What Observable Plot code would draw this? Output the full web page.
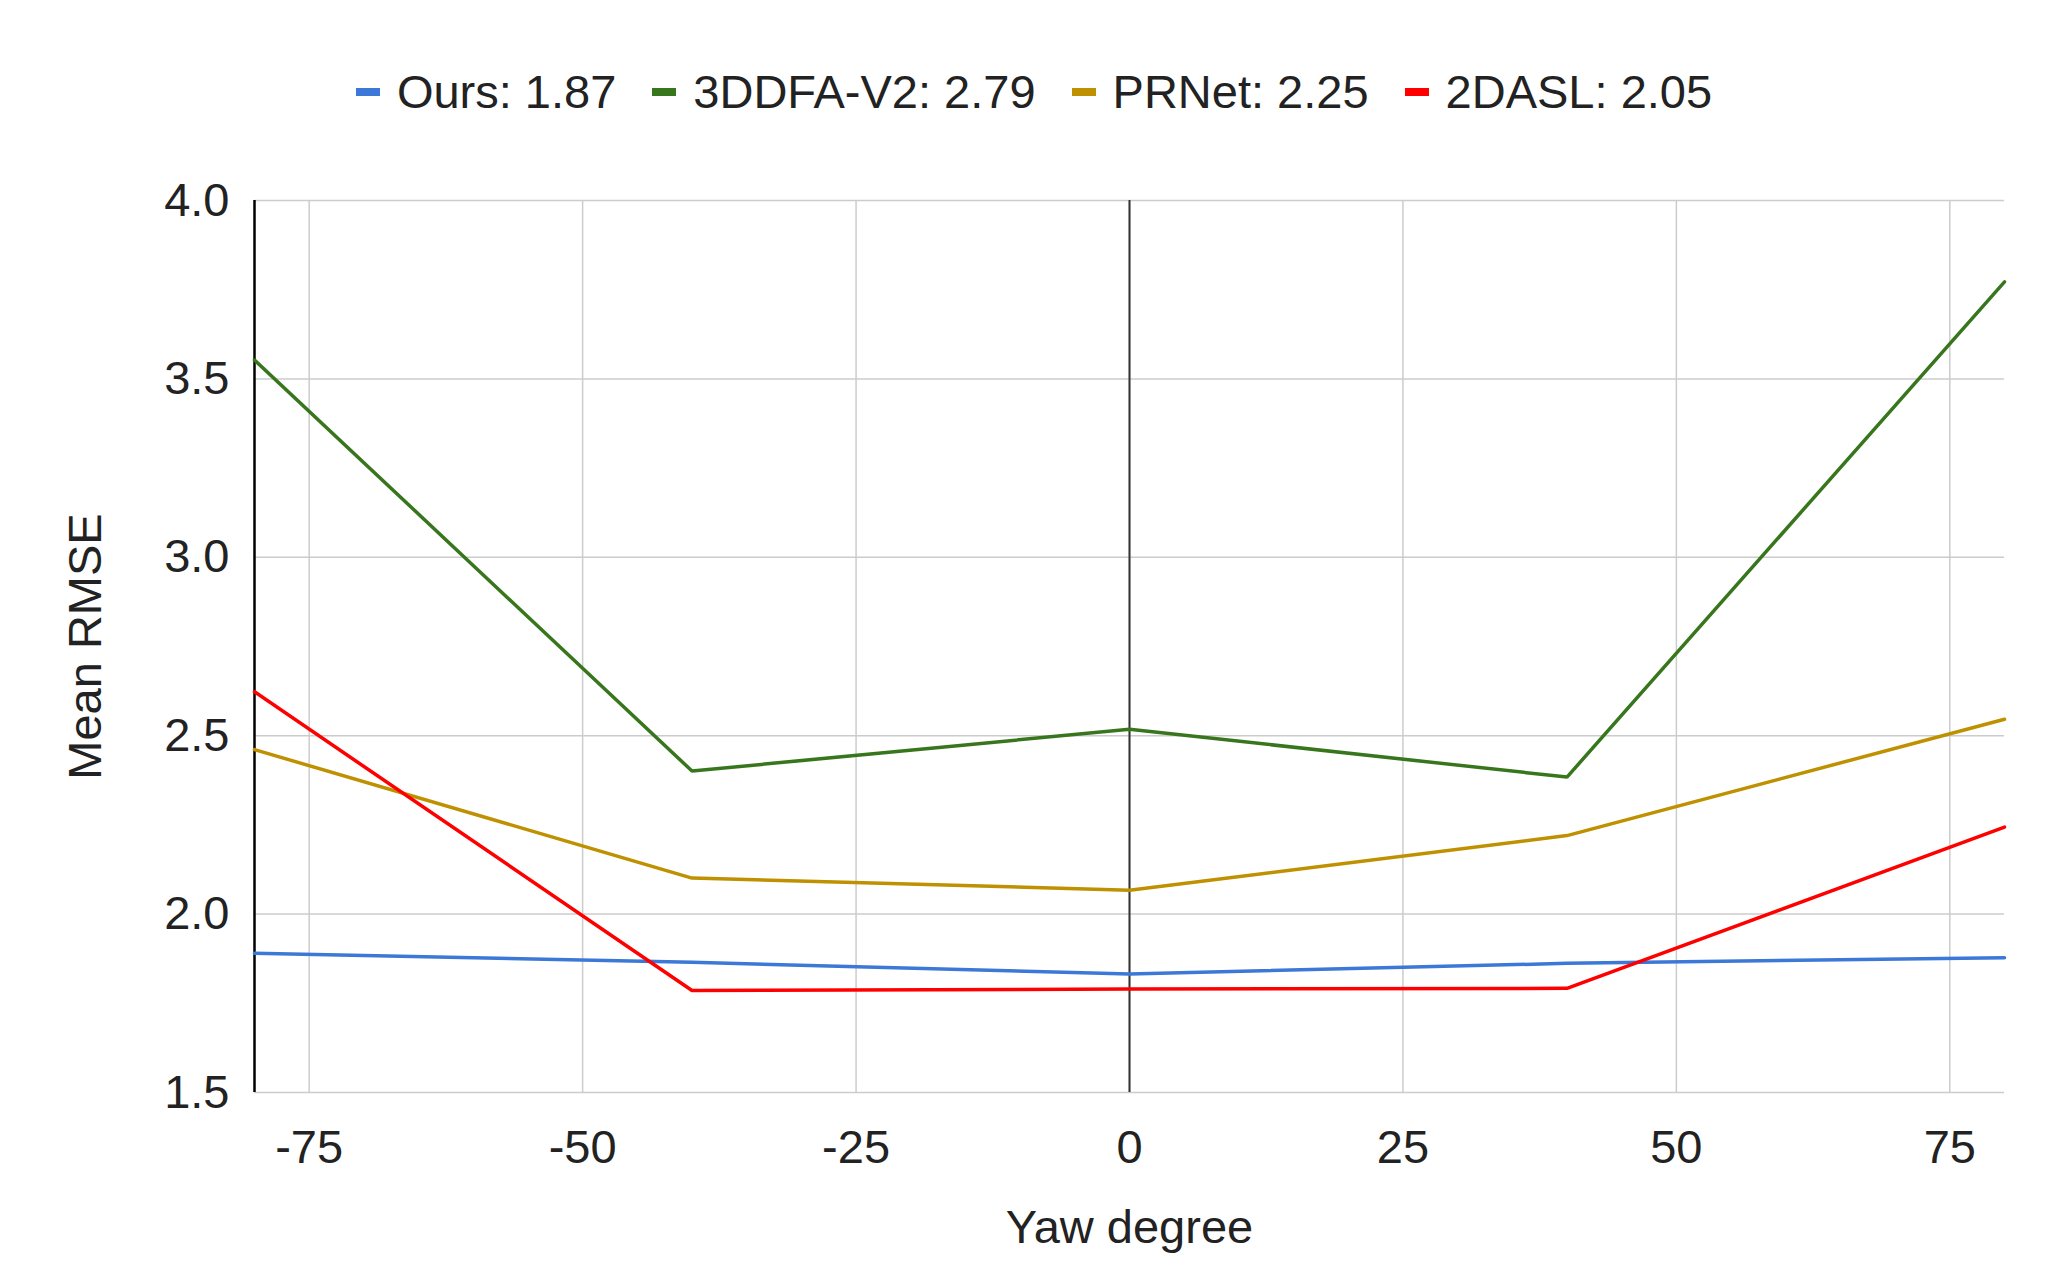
<!DOCTYPE html>
<html>
<head>
<meta charset="utf-8">
<script src="https://cdn.jsdelivr.net/npm/d3@7"></script>
<script src="https://cdn.jsdelivr.net/npm/@observablehq/plot@0.6"></script>
<style>
  html, body { margin: 0; padding: 0; background: #fff; }
  body { width: 2068px; height: 1280px; overflow: hidden; font-family: "Liberation Sans", Arial, sans-serif; }
  #legend { box-sizing: border-box; height: 150px; padding-top: 68px; display: flex; justify-content: center; align-items: flex-start; font-size: 47px; line-height: 1; color: #222; }
  #legend .item { display: flex; align-items: center; margin: 0 18px; white-space: pre; }
  #legend .sw { width: 24px; height: 8px; margin-right: 17px; }
  #chart svg { display: block; }
</style>
</head>
<body>
<div id="legend"></div>
<div id="chart"></div>
<script>
// ---- data ----
const yaw = [-80, -40, 0, 40, 80];
const seriesNames = ["Ours", "3DDFA-V2", "PRNet", "2DASL"];
const seriesMeans = ["1.87", "2.79", "2.25", "2.05"];
const seriesColors = ["#3c78d8", "#38761d", "#bf9000", "#ff0000"];
const ours   = [1.890, 1.865, 1.832, 1.862, 1.878];
const ddfaV2 = [3.553, 2.401, 2.518, 2.384, 3.772];
const prnet  = [2.461, 2.101, 2.067, 2.220, 2.546];
const dasl   = [2.623, 1.786, 1.790, 1.792, 2.244];
const xTicks = [-75, -50, -25, 0, 25, 50, 75];
const yTicks = [1.5, 2.0, 2.5, 3.0, 3.5, 4.0];

const allSeries = [ours, ddfaV2, prnet, dasl];
const rows = [];
seriesNames.forEach((name, i) => {
  yaw.forEach((x, j) => rows.push({series: name, yaw: x, v: allSeries[i][j]}));
});

// ---- legend ----
const legend = document.getElementById("legend");
seriesNames.forEach((name, i) => {
  const item = document.createElement("div");
  item.className = "item";
  const sw = document.createElement("span");
  sw.className = "sw";
  sw.style.background = seriesColors[i];
  const label = document.createElement("span");
  label.textContent = `${name}: ${seriesMeans[i]}`;
  item.appendChild(sw);
  item.appendChild(label);
  legend.appendChild(item);
});

// ---- chart ----
const chart = Plot.plot({
  width: 2068,
  height: 1130,
  marginTop: 50,
  marginBottom: 188,
  marginLeft: 254,
  marginRight: 64,
  style: {fontFamily: "Liberation Sans, Arial, sans-serif", fontSize: "47px", color: "#222", background: "#fff"},
  x: {domain: [-80, 80]},
  y: {domain: [1.5, 4.0]},
  color: {domain: seriesNames, range: seriesColors},
  marks: [
    Plot.gridX(xTicks, {stroke: "#cccccc", strokeOpacity: 1, strokeWidth: 1.5}),
    Plot.gridY(yTicks, {stroke: "#cccccc", strokeOpacity: 1, strokeWidth: 1.5}),
    Plot.ruleX([0], {stroke: "#333333", strokeWidth: 2}),
    Plot.ruleX([-80], {stroke: "#000000", strokeWidth: 2.5}),
    Plot.axisX(xTicks, {tickSize: 0, tickPadding: 37, tickFormat: d => `${d}`, fill: "#222", label: "Yaw degree", labelAnchor: "center", labelArrow: "none", labelOffset: 150}),
    Plot.axisY(yTicks, {tickSize: 0, tickPadding: 25, tickFormat: d => d.toFixed(1), fill: "#222", label: "Mean RMSE", labelAnchor: "center", labelArrow: "none", labelOffset: 187}),
    Plot.line(rows, {x: "yaw", y: "v", z: "series", stroke: "series", strokeWidth: 3.5, strokeLinejoin: "miter"})
  ]
});
document.getElementById("chart").appendChild(chart);
</script>
</body>
</html>
